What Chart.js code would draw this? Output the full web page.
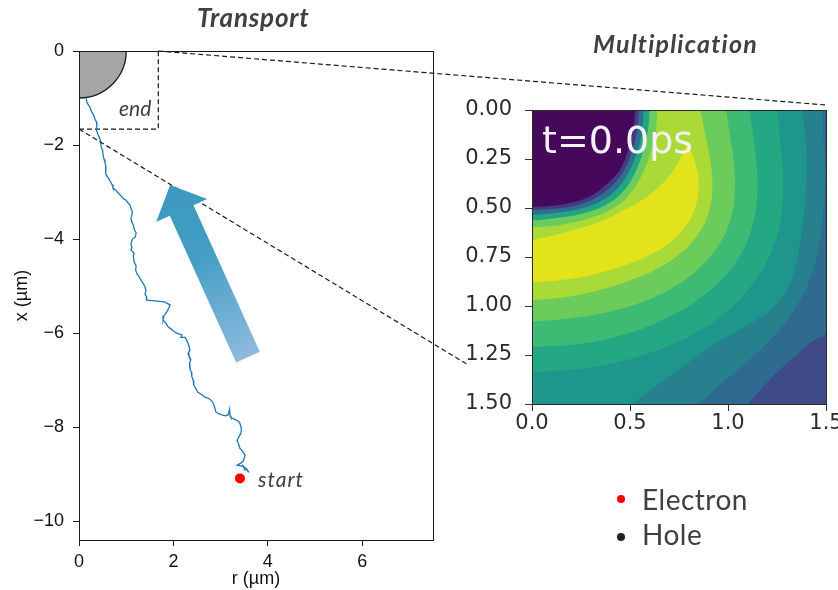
<!DOCTYPE html>
<html>
<head>
<meta charset="utf-8">
<script src="https://cdn.jsdelivr.net/npm/chart.js@4.4.1/dist/chart.umd.min.js"></script>
<style>
  html, body { margin: 0; padding: 0; background: #fff; }
  #page { position: relative; width: 838px; height: 590px; overflow: hidden; }
  #heatChart { position: absolute; left: 455px; top: 60px; z-index: 1; }
  #pathChart { position: absolute; left: 0; top: 0; z-index: 2; }
  .lbl { position: absolute; white-space: nowrap; line-height: 1; z-index: 3;
         color: #404040; font-family: Lato, "Open Sans", sans-serif; }
  .title { font-weight: bold; font-style: italic; }
  .note { font-style: italic; font-size: 21px; }
  .legend { font-size: 28px; letter-spacing: 0.5px; }
  .dot { position: absolute; width: 8px; height: 8px; border-radius: 50%; z-index: 3; }
  #stamp { position: absolute; z-index: 3; left: 542px; top: 121px; line-height: 1;
           font-family: "DejaVu Sans", sans-serif; font-size: 38px; color: #f6f0f8; }
</style>
</head>
<body>
<div id="page">
  <canvas id="heatChart" width="383" height="380"></canvas>
  <canvas id="pathChart" width="838" height="590"></canvas>

  <div class="lbl title" style="left:197px; top:4px; font-size:26px; letter-spacing:0.8px;">Transport</div>
  <div class="lbl title" style="left:593px; top:31px; font-size:25px; letter-spacing:1.2px;">Multiplication</div>
  <div class="lbl note" style="left:119px; top:97px;">end</div>
  <div class="lbl note" style="left:258px; top:468px; letter-spacing:1px;">start</div>
  <div id="stamp">t=0.0ps</div>

  <span class="dot" style="left:617px; top:495px; background:#ff0000;"></span>
  <div class="lbl legend" style="left:642px; top:485px;">Electron</div>
  <span class="dot" style="left:617px; top:533px; background:#222;"></span>
  <div class="lbl legend" style="left:642px; top:520px;">Hole</div>
</div>

<script>
// ---- Transport panel (left) ----
const rTicks = [0, 2, 4, 6];
const xTicks = [0, -2, -4, -6, -8, -10];

// electron random walk (r, x in um)
const rPath = [0.15, 0.17, 0.23, 0.27, 0.31, 0.34, 0.37, 0.38, 0.36, 0.40, 0.44, 0.46, 0.47, 0.50, 0.51, 0.53,
  0.55, 0.57, 0.56, 0.57, 0.62, 0.66, 0.70, 0.72, 0.78, 0.83, 0.88, 0.93, 0.99, 1.04, 1.08, 1.10,
  1.13, 1.12, 1.10, 1.12, 1.15, 1.17, 1.21, 1.19, 1.13, 1.10, 1.12, 1.10, 1.17, 1.15, 1.17, 1.21,
  1.20, 1.23, 1.28, 1.31, 1.36, 1.40, 1.42, 1.40, 1.44, 1.43, 1.55, 1.67, 1.75, 1.82, 1.93, 1.90,
  1.86, 1.80, 1.78, 1.84, 1.89, 1.96, 2.03, 2.10, 2.18, 2.16, 2.25, 2.29, 2.33, 2.35, 2.31, 2.33,
  2.37, 2.34, 2.35, 2.38, 2.39, 2.42, 2.43, 2.47, 2.52, 2.60, 2.67, 2.75, 2.82, 2.86, 2.88, 2.90,
  2.97, 3.03, 3.10, 3.16, 3.19, 3.20, 3.22, 3.29, 3.35, 3.40, 3.43, 3.44, 3.43, 3.39, 3.35, 3.38,
  3.41, 3.47, 3.52, 3.50, 3.48, 3.42, 3.35, 3.45, 3.50, 3.56, 3.60, 3.53, 3.48, 3.52];
const xPath = [-0.99, -1.10, -1.19, -1.30, -1.36, -1.45, -1.51, -1.60, -1.66, -1.77, -1.86, -1.93, -2.04, -2.12, -2.21, -2.30,
  -2.37, -2.45, -2.53, -2.62, -2.70, -2.77, -2.84, -2.91, -2.96, -3.02, -3.07, -3.13, -3.17, -3.23, -3.28, -3.34,
  -3.42, -3.49, -3.56, -3.64, -3.70, -3.79, -3.87, -3.96, -4.00, -4.11, -4.18, -4.23, -4.30, -4.36, -4.49, -4.57,
  -4.66, -4.74, -4.81, -4.87, -4.94, -5.02, -5.10, -5.17, -5.25, -5.30, -5.31, -5.32, -5.33, -5.34, -5.40, -5.47,
  -5.55, -5.63, -5.72, -5.79, -5.87, -5.92, -5.98, -6.01, -6.04, -6.09, -6.09, -6.17, -6.27, -6.36, -6.43, -6.49,
  -6.56, -6.64, -6.76, -6.83, -6.92, -7.00, -7.10, -7.17, -7.26, -7.31, -7.36, -7.39, -7.45, -7.53, -7.60, -7.68,
  -7.72, -7.74, -7.76, -7.74, -7.62, -7.76, -7.80, -7.83, -7.86, -7.90, -7.98, -8.06, -8.13, -8.20, -8.28, -8.36,
  -8.45, -8.52, -8.60, -8.66, -8.72, -8.77, -8.81, -8.83, -8.85, -8.90, -8.96, -8.88, -8.83, -8.93];

const startR = [3.41];
const startX = [-9.09];
const zoomBoxR = [0, 1.68, 1.68];
const zoomBoxX = [-1.66, -1.66, 0];
const endRadius = 1.0;
const arrowTip = [1.93, -2.85];
const arrowTail = [3.58, -6.51];

// ---- Multiplication panel (right): contour boundaries, [r, x] ----
const heatTicksX = [0, 0.5, 1.0, 1.5];
const heatTicksY = [0, 0.25, 0.5, 0.75, 1.0, 1.25, 1.5];

const contourBg = [[1.5, 0], [1.5, 1.5]];
const contourO1 = [[1.5, 0], [1.5, 1.13], [1.43, 1.18], [1.35, 1.25], [1.27, 1.32], [1.19, 1.40], [1.10, 1.5]];
const contourO2 = [[1.48, 0], [1.49, 0.22], [1.49, 0.45], [1.47, 0.66], [1.42, 0.86], [1.33, 1.03], [1.21, 1.18], [1.08, 1.30], [0.96, 1.40], [0.85, 1.5]];
const contourO3 = [[1.38, 0], [1.40, 0.22], [1.395, 0.45], [1.37, 0.66], [1.33, 0.85], [1.25, 0.99], [1.13, 1.08], [0.99, 1.16], [0.85, 1.25], [0.70, 1.36], [0.51, 1.5]];
const contourO4 = [[1.25, 0], [1.265, 0.14], [1.28, 0.29], [1.28, 0.45], [1.26, 0.61], [1.20, 0.77], [1.11, 0.91], [0.98, 1.04], [0.81, 1.15], [0.60, 1.24], [0.32, 1.31], [0, 1.34]];
const contourO5 = [[1.11, 0], [1.13, 0.14], [1.145, 0.28], [1.15, 0.42], [1.13, 0.57], [1.08, 0.71], [0.99, 0.84], [0.87, 0.95], [0.71, 1.05], [0.52, 1.13], [0.27, 1.19], [0, 1.21]];
const contourO6 = [[0.99, 0], [1.01, 0.13], [1.03, 0.27], [1.035, 0.40], [1.02, 0.53], [0.97, 0.66], [0.88, 0.78], [0.76, 0.88], [0.61, 0.96], [0.43, 1.02], [0.22, 1.06], [0, 1.08]];
const contourO7 = [[0.86, 0], [0.885, 0.13], [0.91, 0.26], [0.92, 0.38], [0.905, 0.51], [0.85, 0.63], [0.76, 0.73], [0.64, 0.81], [0.50, 0.87], [0.34, 0.92], [0.17, 0.955], [0, 0.97]];
const contourPeak = [[0.79, 0.17], [0.83, 0.26], [0.85, 0.37], [0.835, 0.49], [0.78, 0.60], [0.70, 0.68], [0.60, 0.74], [0.48, 0.79], [0.33, 0.835], [0.17, 0.865], [0, 0.88]];
const contourI7 = [[0.80, 0], [0.79, 0.17], [0.75, 0.26], [0.68, 0.36], [0.59, 0.44], [0.49, 0.50], [0.37, 0.56], [0.24, 0.605], [0.11, 0.64], [0, 0.665]];
const contourI6 = [[0.64, 0], [0.632, 0.10], [0.61, 0.20], [0.57, 0.31], [0.51, 0.415], [0.425, 0.495], [0.30, 0.55], [0.15, 0.585], [0, 0.60]];
const contourI5 = [[0.60, 0], [0.592, 0.10], [0.57, 0.20], [0.53, 0.31], [0.47, 0.41], [0.385, 0.48], [0.27, 0.525], [0.13, 0.55], [0, 0.565]];
const contourI4 = [[0.57, 0], [0.562, 0.10], [0.54, 0.20], [0.497, 0.31], [0.435, 0.40], [0.35, 0.465], [0.24, 0.505], [0.115, 0.525], [0, 0.535]];
const contourI3 = [[0.545, 0], [0.537, 0.10], [0.513, 0.20], [0.468, 0.31], [0.404, 0.39], [0.32, 0.45], [0.215, 0.49], [0.10, 0.505], [0, 0.51]];
const contourI0 = [[0.527, 0], [0.517, 0.10], [0.492, 0.20], [0.445, 0.31], [0.379, 0.38], [0.297, 0.44], [0.195, 0.474], [0.092, 0.49], [0, 0.495]];

// painted bottom to top, each filled from its boundary to r = 0
const contours = [contourBg, contourO1, contourO2, contourO3, contourO4, contourO5, contourO6, contourO7,
  contourPeak, contourI7, contourI6, contourI5, contourI4, contourI3, contourI0];
const bandColors = ['#3f4a89', '#2e6b8e', '#26808e', '#1f968b', '#23a883', '#3dba74', '#6bcb5b', '#a9da37',
  '#e3e31b', '#a9da37', '#6bcb5b', '#22a584', '#2e6f8e', '#443b84', '#46085b'];

const tickFont = { family: '"Liberation Sans", Arial, sans-serif', size: 18 };
const heatFont = { family: '"DejaVu Sans", sans-serif', size: 21 };

const heatFrame = {
  id: 'heatFrame',
  afterDraw(chart) {
    const { ctx, chartArea: a } = chart;
    ctx.save();
    ctx.strokeStyle = '#2a2a2a';
    ctx.lineWidth = 1;
    ctx.strokeRect(Math.round(a.left) + 0.5, Math.round(a.top) + 0.5, Math.round(a.right - a.left), Math.round(a.bottom - a.top));
    ctx.restore();
  }
};

const heatChart = new Chart(document.getElementById('heatChart'), {
  type: 'scatter',
  data: {
    datasets: contours.map((c, i) => ({
      data: c.map(p => ({ x: p[0], y: p[1] })),
      showLine: true,
      indexAxis: 'y',
      fill: { value: 0 },
      backgroundColor: bandColors[i],
      borderColor: 'transparent',
      borderWidth: 0,
      pointRadius: 0,
      tension: 0.4,
      order: contours.length - i
    }))
  },
  options: {
    indexAxis: 'y',
    responsive: false,
    animation: false,
    events: [],
    layout: { padding: { left: 0, top: 50, right: 12, bottom: 0 } },
    plugins: { legend: { display: false }, tooltip: { enabled: false } },
    scales: {
      x: {
        type: 'linear', min: 0, max: 1.5,
        afterBuildTicks: s => { s.ticks = heatTicksX.map(v => ({ value: v })); },
        afterFit: s => { s.height = 36; s.paddingLeft = 0; s.paddingRight = 0; },
        ticks: { font: heatFont, color: '#2b2b2b', padding: 0, maxRotation: 0, autoSkip: false,
                 callback: v => Number(v).toFixed(1) },
        grid: { drawOnChartArea: false, tickLength: 7, color: '#333', tickColor: '#333' },
        border: { color: '#333' }
      },
      y: {
        type: 'linear', min: 0, max: 1.5, reverse: true,
        afterBuildTicks: s => { s.ticks = heatTicksY.map(v => ({ value: v })); },
        afterFit: s => { s.width = 77; },
        ticks: { font: heatFont, color: '#2b2b2b', padding: 13, autoSkip: false,
                 callback: v => Number(v).toFixed(2) },
        grid: { drawOnChartArea: false, tickLength: 7, color: '#333', tickColor: '#333' },
        border: { color: '#333' }
      }
    }
  },
  plugins: [heatFrame]
});

// quarter disk at the end point
const endDisk = {
  id: 'endDisk',
  beforeDatasetsDraw(chart) {
    const { ctx, scales: { x, y } } = chart;
    const cx = x.getPixelForValue(0), cy = y.getPixelForValue(0);
    const rx = x.getPixelForValue(endRadius) - cx;
    const ry = y.getPixelForValue(-endRadius) - cy;
    ctx.save();
    ctx.beginPath();
    ctx.moveTo(cx, cy);
    ctx.ellipse(cx, cy, rx, ry, 0, 0, Math.PI / 2);
    ctx.closePath();
    ctx.fillStyle = '#a6a6a6';
    ctx.fill();
    ctx.beginPath();
    ctx.ellipse(cx, cy, rx, ry, 0, 0, Math.PI / 2);
    ctx.strokeStyle = '#1a1a1a';
    ctx.lineWidth = 1.3;
    ctx.stroke();
    ctx.restore();
  }
};

// frame, zoom connectors and the big arrow
const overlay = {
  id: 'overlay',
  afterDraw(chart) {
    const { ctx, chartArea: a, scales: { x, y } } = chart;
    ctx.save();
    ctx.strokeStyle = '#1a1a1a';
    ctx.lineWidth = 1;
    ctx.strokeRect(Math.round(a.left) + 0.5, Math.round(a.top) + 0.5, Math.round(a.right - a.left), Math.round(a.bottom - a.top));

    const hc = heatChart.canvas, ha = heatChart.chartArea, hy = heatChart.scales.y;
    const ox = hc.offsetLeft, oy = hc.offsetTop;
    ctx.setLineDash([5, 3]);
    ctx.lineWidth = 1.2;
    ctx.beginPath();
    ctx.moveTo(x.getPixelForValue(zoomBoxR[2]), y.getPixelForValue(zoomBoxX[2]));
    ctx.lineTo(ox + ha.right, oy + ha.top - 5);
    ctx.moveTo(x.getPixelForValue(zoomBoxR[0]), y.getPixelForValue(zoomBoxX[0]));
    ctx.lineTo(ox + ha.left - 64, oy + hy.getPixelForValue(1.30));
    ctx.stroke();
    ctx.setLineDash([]);

    const tx = x.getPixelForValue(arrowTip[0]), ty = y.getPixelForValue(arrowTip[1]);
    const bx0 = x.getPixelForValue(arrowTail[0]), by0 = y.getPixelForValue(arrowTail[1]);
    const len = Math.hypot(tx - bx0, ty - by0);
    const ux = (tx - bx0) / len, uy = (ty - by0) / len;
    const nx = -uy, ny = ux;
    const headLen = 28, headHalf = 28, shaftHalf = 13;
    const hx = tx - ux * headLen, hy2 = ty - uy * headLen;
    const grad = ctx.createLinearGradient(tx, ty, bx0, by0);
    grad.addColorStop(0, '#3d99bf');
    grad.addColorStop(0.4, '#439dc4');
    grad.addColorStop(1, '#8fbadf');
    ctx.beginPath();
    ctx.moveTo(bx0 + nx * shaftHalf, by0 + ny * shaftHalf);
    ctx.lineTo(hx + nx * shaftHalf, hy2 + ny * shaftHalf);
    ctx.lineTo(hx + nx * headHalf, hy2 + ny * headHalf);
    ctx.lineTo(tx, ty);
    ctx.lineTo(hx - nx * headHalf, hy2 - ny * headHalf);
    ctx.lineTo(hx - nx * shaftHalf, hy2 - ny * shaftHalf);
    ctx.lineTo(bx0 - nx * shaftHalf, by0 - ny * shaftHalf);
    ctx.closePath();
    ctx.fillStyle = grad;
    ctx.fill();
    ctx.restore();
  }
};

const pathChart = new Chart(document.getElementById('pathChart'), {
  type: 'scatter',
  data: {
    datasets: [
      {
        label: 'start',
        data: startR.map((r, i) => ({ x: r, y: startX[i] })),
        pointRadius: 5, backgroundColor: '#ff0000', borderWidth: 0, order: 0
      },
      {
        label: 'trajectory',
        data: rPath.map((r, i) => ({ x: r, y: xPath[i] })),
        showLine: true, pointRadius: 0, borderColor: '#1f77b4', borderWidth: 1.3, tension: 0, order: 1
      },
      {
        label: 'zoom box',
        data: zoomBoxR.map((r, i) => ({ x: r, y: zoomBoxX[i] })),
        showLine: true, pointRadius: 0, borderColor: '#1a1a1a', borderWidth: 1.2, borderDash: [5, 3], order: 2
      }
    ]
  },
  options: {
    responsive: false,
    animation: false,
    events: [],
    layout: { padding: { left: 0, top: 51, right: 405, bottom: 0 } },
    plugins: { legend: { display: false }, tooltip: { enabled: false } },
    scales: {
      x: {
        type: 'linear', min: 0, max: 7.5,
        afterBuildTicks: s => { s.ticks = rTicks.map(v => ({ value: v })); },
        afterFit: s => { s.height = 50; s.paddingLeft = 0; s.paddingRight = 0; },
        ticks: { font: tickFont, color: '#111', padding: 5, maxRotation: 0, autoSkip: false },
        grid: { drawOnChartArea: false, tickLength: 6, color: '#1a1a1a', tickColor: '#1a1a1a' },
        border: { color: '#1a1a1a' },
        title: { display: true, text: 'r (µm)', font: tickFont, color: '#111', padding: { top: 0, bottom: 0 } }
      },
      y: {
        type: 'linear', min: -10.4, max: 0,
        afterBuildTicks: s => { s.ticks = xTicks.map(v => ({ value: v })); },
        afterFit: s => { s.width = 79; },
        ticks: { font: tickFont, color: '#111', padding: 9, autoSkip: false,
                 callback: v => String(v).replace('-', '\u2212') },
        grid: { drawOnChartArea: false, tickLength: 6, color: '#1a1a1a', tickColor: '#1a1a1a' },
        border: { color: '#1a1a1a' },
        title: { display: true, text: 'x (µm)', font: tickFont, color: '#111', padding: { top: 11, bottom: 0 } }
      }
    }
  },
  plugins: [endDisk, overlay]
});
</script>
</body>
</html>
